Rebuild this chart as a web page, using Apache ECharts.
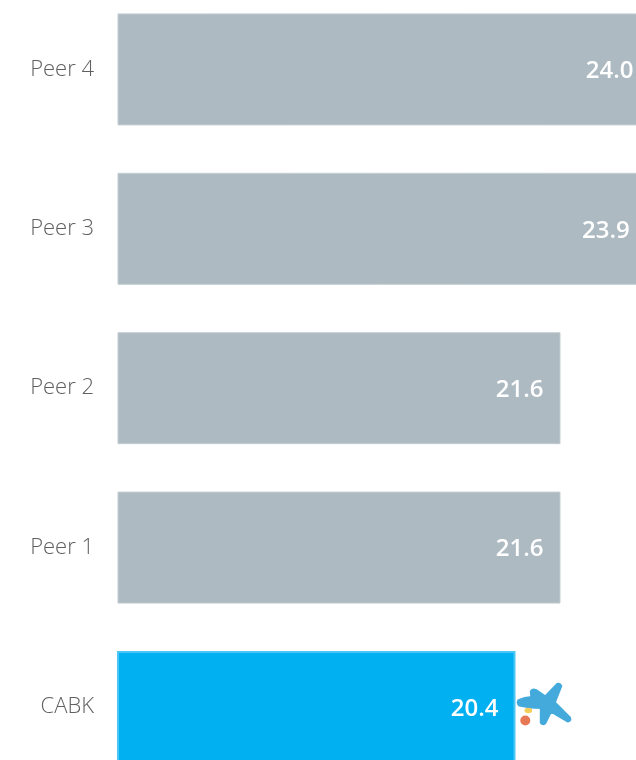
<!DOCTYPE html>
<html>
<head>
<meta charset="utf-8">
<script src="https://cdn.jsdelivr.net/npm/echarts@6/dist/echarts.min.js"></script>
<style>
html,body{margin:0;padding:0;background:#fff;}
#chart{width:636px;height:760px;}
</style>
</head>
<body>
<div id="chart"></div>
<script>
const categories = ['CABK', 'Peer 1', 'Peer 2', 'Peer 3', 'Peer 4'];
const values = [20.4, 21.6, 21.6, 23.9, 24.0];
const highlightCategory = 'CABK';

const logoSvg = '<svg xmlns="http://www.w3.org/2000/svg" width="56" height="44" viewBox="0 0 56 44">' +
  '<path fill="#1694d3" stroke="#1694d3" stroke-width="3" stroke-linejoin="round" d="M2.5,18.5 Q8,16 15.5,15.5 L15,9.5 Q16.5,7 19.5,8.5 L29,15 L41,2.5 Q43.5,1.5 44.5,4 L38,20.5 L53,35.5 Q54.5,38.5 51.5,39 L34.5,29 L28.5,41 Q26.5,42.5 25,40.5 L25,25.5 Q14,25.5 3,23 Q1,21 2.5,18.5 Z"/>' +
  '<ellipse cx="12" cy="28.5" rx="3.8" ry="2.8" fill="#f1c232"/>' +
  '<circle cx="9" cy="38.5" r="5" fill="#e2572b"/>' +
  '</svg>';
const logoUri = 'image://data:image/svg+xml;charset=utf-8,' + encodeURIComponent(logoSvg);

const chart = echarts.init(document.getElementById('chart'), null, {renderer: 'canvas'});
const hiIdx = categories.indexOf(highlightCategory);

chart.setOption({
  animation: false,
  backgroundColor: '#ffffff',
  grid: {left: 118, top: -10.3, height: 797, width: 551.25, containLabel: false, outerBoundsMode: 'none'},
  xAxis: {
    type: 'value', min: 9.8, max: 24.5, show: false
  },
  yAxis: {
    type: 'category', data: categories,
    axisLine: {show: false}, axisTick: {show: false}, splitLine: {show: false},
    axisLabel: {
      margin: 24, color: '#606060', fontSize: 22, fontWeight: 300,
      fontFamily: '"Open Sans", "Noto Sans", sans-serif'
    }
  },
  series: [
    {
      type: 'bar',
      barWidth: 112,
      clip: true,
      data: values.map((v, i) => ({
        value: v,
        itemStyle: i === hiIdx
          ? {color: '#00b0f0', borderColor: '#4cc6f6', borderWidth: 2}
          : {color: '#adbac1', borderColor: '#c3cdd2', borderWidth: 1}
      })),
      label: {
        show: true, position: 'insideRight', distance: 17, offset: [0, 2],
        color: '#ffffff', fontSize: 24, fontWeight: 600,
        fontFamily: '"Open Sans", "Noto Sans", sans-serif',
        formatter: p => p.value.toFixed(1)
      }
    },
    {
      type: 'scatter',
      data: [[values[hiIdx], highlightCategory]],
      symbol: logoUri,
      symbolSize: [56, 44],
      symbolOffset: [28.8, -3],
      z: 5,
      silent: true
    }
  ]
});
</script>
</body>
</html>
